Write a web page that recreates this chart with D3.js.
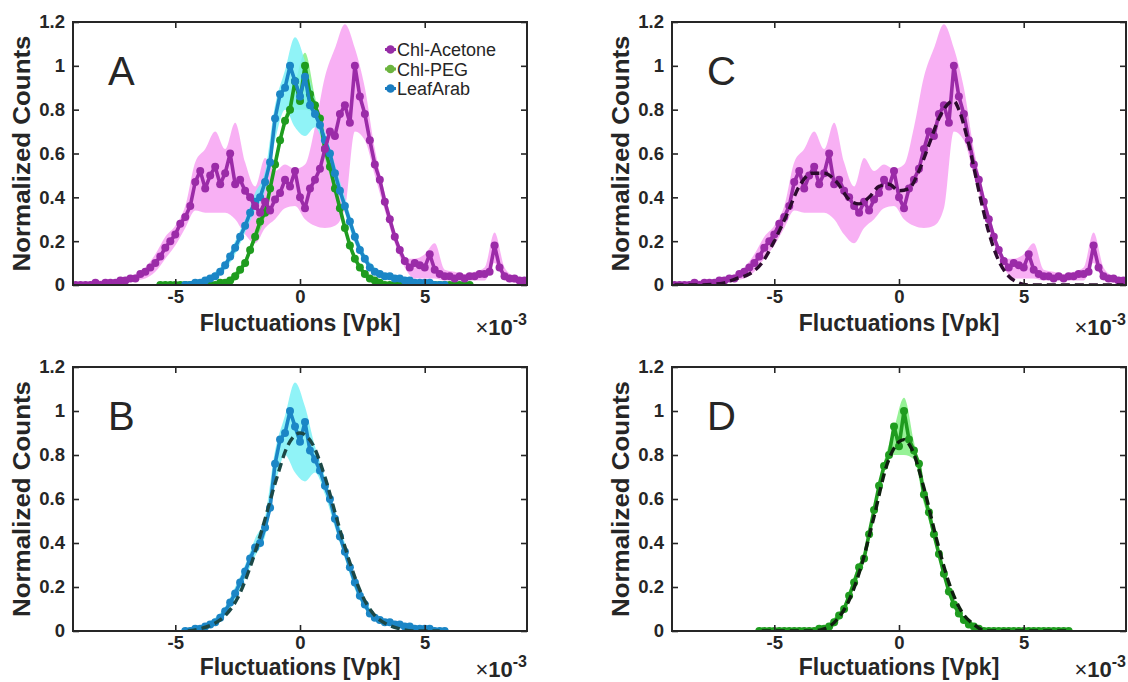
<!DOCTYPE html>
<html>
<head>
<meta charset="utf-8">
<script src="https://cdn.jsdelivr.net/npm/d3@7"></script>
<style>
  body { margin: 0; background: #fff; }
  text { font-family: "Liberation Sans", Arial, sans-serif; fill: #262626; }
</style>
</head>
<body>
<svg id="chart" width="1128" height="682"></svg>
<script>
'use strict'

// histogram bin centres, x in units of 1e-3 Vpk
const bins = [
  -9.0, -8.8, -8.6, -8.4, -8.2, -8.0, -7.8, -7.6, -7.4, -7.2,
  -7.0, -6.8, -6.6, -6.4, -6.2, -6.0, -5.8, -5.6, -5.4, -5.2,
  -5.0, -4.8, -4.6, -4.4, -4.2, -4.0, -3.8, -3.6, -3.4, -3.2,
  -3.0, -2.8, -2.6, -2.4, -2.2, -2.0, -1.8, -1.6, -1.4, -1.2,
  -1.0, -0.8, -0.6, -0.4, -0.2, 0.0, 0.2, 0.4, 0.6, 0.8,
  1.0, 1.2, 1.4, 1.6, 1.8, 2.0, 2.2, 2.4, 2.6, 2.8,
  3.0, 3.2, 3.4, 3.6, 3.8, 4.0, 4.2, 4.4, 4.6, 4.8,
  5.0, 5.2, 5.4, 5.6, 5.8, 6.0, 6.2, 6.4, 6.6, 6.8,
  7.0, 7.2, 7.4, 7.6, 7.8, 8.0, 8.2, 8.4, 8.6, 8.8,
  9.0
]

const acetone = [
  0.00, 0.00, 0.00, 0.00, 0.01, 0.00, 0.01, 0.01, 0.01, 0.02,
  0.02, 0.03, 0.03, 0.05, 0.06, 0.08, 0.10, 0.13, 0.17, 0.20,
  0.23, 0.28, 0.31, 0.36, 0.47, 0.52, 0.44, 0.50, 0.54, 0.46,
  0.51, 0.60, 0.46, 0.48, 0.43, 0.40, 0.36, 0.33, 0.38, 0.34,
  0.39, 0.42, 0.48, 0.45, 0.52, 0.40, 0.35, 0.44, 0.48, 0.53,
  0.62, 0.70, 0.68, 0.78, 0.82, 0.74, 1.00, 0.86, 0.78, 0.66,
  0.55, 0.48, 0.38, 0.30, 0.22, 0.16, 0.11, 0.08, 0.10, 0.09,
  0.08, 0.14, 0.07, 0.05, 0.04, 0.04, 0.03, 0.04, 0.03, 0.04,
  0.04, 0.05, 0.05, 0.06, 0.18, 0.08, 0.04, 0.03, 0.03, 0.02,
  0.02
]

const peg = [
  null, null, null, null, null, null, null, null, null, null,
  null, null, null, null, null, null, null, 0.00, 0.00, 0.00,
  0.00, 0.00, 0.00, 0.00, 0.00, 0.00, 0.00, 0.00, 0.00, 0.01,
  0.01, 0.02, 0.04, 0.07, 0.10, 0.16, 0.22, 0.29, 0.33, 0.44,
  0.55, 0.66, 0.75, 0.80, 0.93, 0.84, 1.00, 0.87, 0.82, 0.76,
  0.62, 0.54, 0.44, 0.35, 0.26, 0.18, 0.12, 0.08, 0.05, 0.03,
  0.02, 0.01, 0.00, 0.00, 0.00, 0.00, 0.00, 0.00, 0.00, 0.00,
  0.00, 0.00, 0.00, 0.00, 0.00, 0.00, 0.00, 0.00, 0.00, 0.00,
  null, null, null, null, null, null, null, null, null, null,
  null
]

const leaf = [
  null, null, null, null, null, null, null, null, null, null,
  null, null, null, null, null, null, null, null, null, null,
  null, null, 0.00, 0.00, 0.01, 0.01, 0.02, 0.03, 0.04, 0.06,
  0.09, 0.13, 0.17, 0.22, 0.27, 0.33, 0.38, 0.40, 0.47, 0.56,
  0.76, 0.87, 0.90, 1.00, 0.93, 0.86, 0.95, 0.82, 0.78, 0.73,
  0.66, 0.60, 0.51, 0.43, 0.36, 0.29, 0.22, 0.16, 0.12, 0.08,
  0.06, 0.05, 0.04, 0.04, 0.03, 0.03, 0.02, 0.02, 0.01, 0.01,
  0.01, 0.01, 0.00, 0.00, 0.00, null, null, null, null, null,
  null, null, null, null, null, null, null, null, null, null,
  null
]

// shaded spread (upper / lower edge), on a coarser grid
const bandBins = [
  -9.0, -8.6, -8.2, -7.8, -7.4, -7.0, -6.6, -6.2, -5.8, -5.4,
  -5.0, -4.6, -4.2, -3.8, -3.4, -3.0, -2.6, -2.2, -1.8, -1.4,
  -1.0, -0.6, -0.2, 0.2, 0.6, 1.0, 1.4, 1.8, 2.2, 2.6,
  3.0, 3.4, 3.8, 4.2, 4.6, 5.0, 5.4, 5.8, 6.2, 6.6,
  7.0, 7.4, 7.8, 8.2, 8.6, 9.0
]

const acetoneHi = [
  0.01, 0.01, 0.02, 0.02, 0.02, 0.03, 0.05, 0.08, 0.14, 0.22,
  0.27, 0.36, 0.56, 0.62, 0.70, 0.62, 0.74, 0.56, 0.45, 0.58,
  0.52, 0.55, 0.53, 0.55, 0.72, 0.95, 1.08, 1.19, 1.08, 0.90,
  0.62, 0.42, 0.25, 0.12, 0.12, 0.14, 0.19, 0.07, 0.06, 0.05,
  0.06, 0.08, 0.24, 0.08, 0.04, 0.03
]
const acetoneLo = [
  0.00, 0.00, 0.00, 0.00, 0.00, 0.01, 0.02, 0.03, 0.06, 0.12,
  0.18, 0.26, 0.34, 0.33, 0.33, 0.33, 0.30, 0.23, 0.19, 0.26,
  0.30, 0.35, 0.36, 0.30, 0.27, 0.26, 0.27, 0.35, 0.70, 0.66,
  0.50, 0.34, 0.19, 0.08, 0.03, 0.03, 0.03, 0.02, 0.02, 0.02,
  0.02, 0.02, 0.10, 0.02, 0.01, 0.00
]

const pegHi = [
  null, null, null, null, null, null, null, null, null, 0.01,
  0.01, 0.01, 0.01, 0.01, 0.01, 0.02, 0.06, 0.12, 0.25, 0.36,
  0.57, 0.77, 0.92, 1.06, 0.86, 0.64, 0.46, 0.28, 0.14, 0.06,
  0.03, 0.01, 0.01, 0.01, 0.01, 0.01, 0.01, 0.01, 0.01, 0.01,
  null, null, null, null, null, null
]
const pegLo = [
  null, null, null, null, null, null, null, null, null, 0.00,
  0.00, 0.00, 0.00, 0.00, 0.00, 0.00, 0.02, 0.09, 0.20, 0.31,
  0.52, 0.72, 0.80, 0.80, 0.78, 0.58, 0.42, 0.24, 0.11, 0.04,
  0.01, 0.00, 0.00, 0.00, 0.00, 0.00, 0.00, 0.00, 0.00, 0.00,
  null, null, null, null, null, null
]

const leafHi = [
  null, null, null, null, null, null, null, null, null, null,
  null, 0.01, 0.02, 0.03, 0.06, 0.11, 0.20, 0.30, 0.42, 0.52,
  0.82, 0.98, 1.13, 1.02, 0.84, 0.70, 0.55, 0.40, 0.25, 0.14,
  0.08, 0.05, 0.04, 0.03, 0.02, 0.02, 0.01, 0.01, null, null,
  null, null, null, null, null, null
]
const leafLo = [
  null, null, null, null, null, null, null, null, null, null,
  null, 0.00, 0.00, 0.01, 0.03, 0.07, 0.14, 0.24, 0.34, 0.43,
  0.66, 0.80, 0.72, 0.68, 0.72, 0.62, 0.47, 0.33, 0.19, 0.10,
  0.05, 0.03, 0.02, 0.01, 0.00, 0.00, 0.00, 0.00, null, null,
  null, null, null, null, null, null
]

// fitted curves (dashed)
const fitAcetoneX = [-9, -8, -7, -6.5, -6, -5.5, -5, -4.5, -4, -3.5, -3, -2.5, -2, -1.6, -1.2, -0.8, -0.4, 0,
  0.4, 0.8, 1.2, 1.6, 2.0, 2.2, 2.4, 2.8, 3.2, 3.6, 4.0, 4.4, 4.8, 5.2, 6, 7, 8, 9]
const fitAcetone = [0, 0, 0.01, 0.03, 0.05, 0.10, 0.20, 0.32, 0.45, 0.51, 0.51, 0.47, 0.39, 0.37, 0.40, 0.45, 0.46, 0.43,
  0.44, 0.52, 0.64, 0.76, 0.83, 0.84, 0.80, 0.64, 0.43, 0.24, 0.11, 0.04, 0.01, 0, 0, 0, 0, 0]

const fitLeafX = [-4.5, -4, -3.5, -3, -2.5, -2, -1.5, -1, -0.5, 0, 0.5, 1, 1.5, 2, 2.5, 3, 3.5, 4, 4.5, 5, 5.6]
const fitLeaf = [0, 0.01, 0.03, 0.07, 0.15, 0.29, 0.47, 0.67, 0.84, 0.90, 0.85, 0.70, 0.50, 0.31, 0.16, 0.07, 0.03, 0.01, 0, 0, 0]

const fitPegX = [-5.5, -4.5, -3.5, -3, -2.5, -2, -1.5, -1, -0.5, 0, 0.2, 0.5, 1, 1.5, 2, 2.5, 3, 3.5, 4.5, 5.5, 6.7]
const fitPeg = [0, 0, 0, 0.01, 0.05, 0.14, 0.30, 0.52, 0.75, 0.86, 0.87, 0.83, 0.65, 0.42, 0.22, 0.09, 0.03, 0, 0, 0, 0]

const xTicks = [-5, 0, 5]
const xTickLabels = ['-5', '0', '5']
const yTicks = [0, 0.2, 0.4, 0.6, 0.8, 1, 1.2]
const yTickLabels = ['0', '0.2', '0.4', '0.6', '0.8', '1', '1.2']
const legendNames = ['Chl-Acetone', 'Chl-PEG', 'LeafArab']
const legendColors = ['#962ca6', '#6cb43e', '#1a7cc0']

const series = {
  acetone: { y: acetone, hi: acetoneHi, lo: acetoneLo, line: '#9b2ba8', band: '#f7a2f2' },
  peg: { y: peg, hi: pegHi, lo: pegLo, line: '#1f9c1f', band: '#84f084' },
  leaf: { y: leaf, hi: leafHi, lo: leafLo, line: '#1b86c6', band: '#7cf1f6' }
}

const svg = d3.select('#chart')
const W = 454

const panels = [
  { id: 'A', left: 73, top: 22, h: 263, lab: 46, exp: 50, list: ['acetone', 'peg', 'leaf'], draw: ['peg', 'leaf', 'acetone'], legend: true, letterFont: '"Liberation Sans", Arial' },
  { id: 'B', left: 73, top: 367, h: 264, lab: 44, exp: 46, list: ['leaf'], draw: ['leaf'], fitX: fitLeafX, fit: fitLeaf, fitColor: '#1c4846' },
  { id: 'C', left: 672, top: 22, h: 263, lab: 46, exp: 50, list: ['acetone'], draw: ['acetone'], fitX: fitAcetoneX, fit: fitAcetone, fitColor: '#2c0c2e' },
  { id: 'D', left: 672, top: 367, h: 264, lab: 44, exp: 46, list: ['peg'], draw: ['peg'], fitX: fitPegX, fit: fitPeg, fitColor: '#0f1f0f' }
]

panels.forEach(function (p) {
  let g = svg.append('g').attr('transform', `translate(${p.left},${p.top})`)
  let x = d3.scaleLinear().domain([-9.1, 9.1]).range([0, W])
  let y = d3.scaleLinear().domain([0, 1.2]).range([p.h, 0])

  g.append('clipPath').attr('id', 'clip' + p.id)
    .append('rect').attr('width', W).attr('height', p.h)
  let plot = g.append('g').attr('clip-path', `url(#clip${p.id})`)

  // shaded bands
  p.list.forEach(function (k) {
    let s = series[k]
    let pts = bandBins.map((b, i) => ({ x: b, hi: s.hi[i], lo: s.lo[i] }))
    plot.append('path')
      .datum(pts)
      .attr('fill', s.band)
      .attr('fill-opacity', 0.85)
      .attr('d', d3.area()
        .defined(d => d.hi !== null)
        .x(d => x(d.x))
        .y0(d => y(d.lo))
        .y1(d => y(d.hi))
        .curve(d3.curveMonotoneX))
  })

  // measured curves with markers
  p.draw.forEach(function (k) {
    let s = series[k]
    let pts = bins.map((b, i) => ({ x: b, v: s.y[i] })).filter(d => d.v !== null)
    plot.append('path')
      .datum(pts)
      .attr('fill', 'none')
      .attr('stroke', s.line)
      .attr('stroke-width', 3.6)
      .attr('stroke-linejoin', 'round')
      .attr('d', d3.line().x(d => x(d.x)).y(d => y(d.v)))
    plot.append('g').selectAll('circle')
      .data(pts)
      .join('circle')
      .attr('cx', d => x(d.x))
      .attr('cy', d => y(d.v))
      .attr('r', 4)
      .attr('fill', s.line)
  })

  // fit
  if (p.fit) {
    let pts = p.fitX.map((v, i) => ({ x: v, v: p.fit[i] }))
    plot.append('path')
      .datum(pts)
      .attr('fill', 'none')
      .attr('stroke', p.fitColor)
      .attr('stroke-width', 3.4)
      .attr('stroke-dasharray', '9,5')
      .attr('d', d3.line().x(d => x(d.x)).y(d => y(d.v)).curve(d3.curveMonotoneX))
  }

  // axes, ticks inward on all four sides
  g.append('g').attr('transform', `translate(0,${p.h})`)
    .call(d3.axisBottom(x).tickValues(xTicks).tickSize(-6).tickSizeOuter(0).tickPadding(5)
      .tickFormat((d, i) => xTickLabels[i]))
  g.append('g')
    .call(d3.axisLeft(y).tickValues(yTicks).tickSize(-6).tickSizeOuter(0).tickPadding(8)
      .tickFormat((d, i) => yTickLabels[i]))
  g.append('g')
    .call(d3.axisTop(x).tickValues(xTicks).tickSize(-6).tickSizeOuter(0).tickFormat(''))
  g.append('g').attr('transform', `translate(${W},0)`)
    .call(d3.axisRight(y).tickValues(yTicks).tickSize(-6).tickSizeOuter(0).tickFormat(''))
  g.selectAll('.domain').remove()
  g.selectAll('.tick line').attr('stroke', '#262626').attr('stroke-width', 1.6)
  g.selectAll('.tick text')
    .attr('font-family', '"Liberation Sans", Arial, sans-serif')
    .attr('font-size', 18.5)
    .attr('font-weight', 'bold')
    .attr('fill', '#262626')

  g.append('rect')
    .attr('width', W).attr('height', p.h)
    .attr('fill', 'none')
    .attr('stroke', '#262626')
    .attr('stroke-width', 2)

  // axis titles
  g.append('text')
    .attr('x', W / 2).attr('y', p.h + p.lab)
    .attr('text-anchor', 'middle')
    .attr('font-size', 23).attr('font-weight', 'bold')
    .text('Fluctuations [Vpk]')
  g.append('text')
    .attr('transform', `translate(-43,${p.h / 2}) rotate(-90)`)
    .attr('text-anchor', 'middle')
    .attr('font-size', 23).attr('font-weight', 'bold')
    .attr('textLength', 236).attr('lengthAdjust', 'spacingAndGlyphs')
    .text('Normalized Counts')

  let ex = g.append('text')
    .attr('x', W).attr('y', p.h + p.exp)
    .attr('text-anchor', 'end')
    .attr('font-size', 22)
  ex.append('tspan').text('×')
  ex.append('tspan').attr('font-weight', 'bold').text('10')
  ex.append('tspan').attr('font-weight', 'bold').attr('font-size', 16).attr('dy', -10).text('-3')

  // panel letter
  g.append('text')
    .attr('x', 35).attr('y', 63)
    .attr('font-size', 40)
    .attr('font-family', p.letterFont || 'Lato, "Open Sans", sans-serif')
    .attr('fill', '#000')
    .text(p.id)

  if (p.legend) {
    let lg = g.append('g').attr('transform', 'translate(312,34)')
    legendNames.forEach(function (name, i) {
      let row = lg.append('g').attr('transform', `translate(0,${i * 19.5})`)
      row.append('line').attr('x1', 0).attr('x2', 11).attr('y1', -6.5).attr('y2', -6.5)
        .attr('stroke', legendColors[i]).attr('stroke-width', 3)
      row.append('circle').attr('cx', 5.5).attr('cy', -6.5).attr('r', 4.3).attr('fill', legendColors[i])
      row.append('text').attr('x', 12).attr('y', 0)
        .attr('font-size', 18)
        .attr('textLength', 106).attr('lengthAdjust', 'spacingAndGlyphs')
        .attr('textLength', null)
        .text(name)
    })
  }
})
</script>
</body>
</html>
